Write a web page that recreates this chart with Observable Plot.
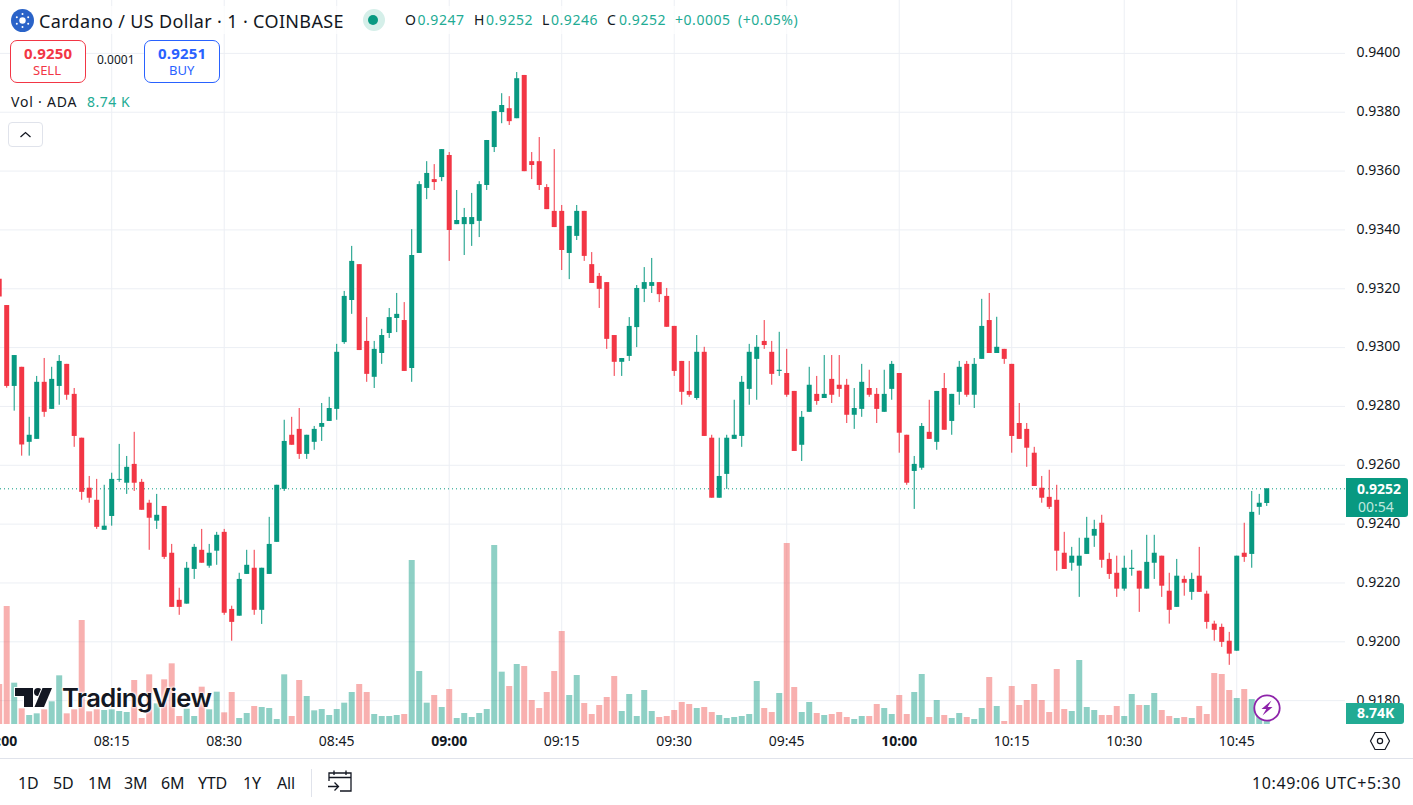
<!DOCTYPE html>
<html><head><meta charset="utf-8">
<script src="https://cdn.jsdelivr.net/npm/d3@7"></script>
<script src="https://cdn.jsdelivr.net/npm/@observablehq/plot@0.6"></script>
<style>
html,body{margin:0;padding:0;background:#fff;overflow:hidden}
#page{position:relative;width:1413px;height:805px;overflow:hidden;font-family:"Noto Sans",sans-serif;color:#131722}
#page svg{display:block}
.layer{position:absolute;left:0;top:0}
.t{position:absolute;white-space:nowrap;line-height:1}
.box{position:absolute;box-sizing:border-box}
</style></head><body><div id="page"></div>
<script>
// prices in ten-thousandths of a dollar, one candle per minute from 08:00
const open=[9323.2,9314.3,9286.8,9293.3,9267.8,9268.8,9288.2,9279,9286.8,9294.3,
9284.1,9269.2,9252.2,9248.1,9237.9,9242.6,9254.9,9253.9,9260.3,9254.2,
9247.1,9241,9246,9230.1,9214.1,9212.8,9224.6,9231.1,9225.7,9230.8,
9237.2,9211,9208.7,9222.9,9225,9210.7,9222.9,9233.8,9251.8,9270.2,
9272.2,9263.7,9267.8,9272.9,9274.9,9279,9301.7,9316,9328.2,9302.1,
9289.9,9298,9304.8,9309.9,9309.2,9292.9,9332,9354.1,9357.1,9357.8,
9365.3,9341.8,9341.8,9341.8,9342.9,9355.1,9368,9379.9,9381.2,9377.8,
9392.5,9363.2,9363.2,9354.4,9346.3,9346.3,9332,9337.8,9346.3,9328.2,
9324.2,9322.1,9304.1,9295,9297,9306.8,9319.8,9320.8,9322.1,9317.4,
9307.2,9295.3,9285.1,9282.7,9298.4,9269.2,9248.8,9256.9,9268.8,9269.8,
9285.8,9296,9302.1,9298.4,9291.9,9291.2,9285.1,9266.8,9278,9284.1,
9282.7,9289.2,9287.2,9287.2,9277,9279,9286.1,9284.1,9278,9285.8,
9291.2,9270.2,9257.9,9259,9271.2,9267.8,9286.1,9274.9,9284.8,9294.3,
9283.8,9296,9309.2,9298,9299.4,9294.3,9274.2,9272.2,9264.1,9252.2,
9249.1,9248.1,9230.1,9226.7,9225.7,9229.7,9235.9,9240.3,9228,9223.3,
9217.9,9224.6,9224,9217.9,9226.7,9229.1,9217.2,9211.7,9221.2,9216.8,
9222.3,9216.2,9206,9204.9,9200.2,9196.8,9230.1,9229.7,9245.7,9247].map(v=>v/1e4);
const close=[9317.2,9286.8,9297.3,9266.9,9270.2,9288.2,9278,9289.2,9295.3,9283.8,
9269.8,9250.8,9248.8,9238.9,9239.3,9255.2,9255.2,9259.3,9253.9,9244.7,
9242,9243,9228.7,9211.7,9211.7,9225,9232.1,9226.7,9230.1,9236.2,
9209.7,9206.6,9221.2,9226,9210.7,9225,9233.1,9253.2,9268.1,9266.8,
9263.7,9270.2,9272.2,9274.2,9279.3,9298.4,9317.4,9329.3,9299,9290.9,
9299.4,9304.1,9310.2,9311.3,9291.9,9331.3,9355.4,9359.2,9356.1,9367.3,
9339.8,9343.2,9344.2,9344.2,9355.4,9370.4,9380.2,9382.3,9376.8,9391.4,
9359.8,9361.9,9355.1,9346.9,9340.8,9333,9341.2,9346.3,9331,9321.8,
9319.8,9302.8,9295,9296.3,9307.2,9320.1,9322.1,9322.1,9318,9306.9,
9291.9,9284.8,9283.8,9298.4,9269.8,9248.8,9256.2,9269.2,9270.2,9288.2,
9298.4,9300.1,9300.7,9290.9,9292.3,9283.8,9264.7,9276.3,9287.2,9281.7,
9284.1,9283.8,9285.8,9277,9279.3,9288.2,9283.8,9279,9284.1,9294.3,
9270.9,9253.9,9260.3,9273.2,9268.8,9285.1,9271.9,9284.1,9293.3,9283.8,
9294.3,9307.2,9298,9300.1,9296,9269.8,9268.8,9265.8,9252.8,9248.8,
9245.7,9230.8,9224.6,9229.1,9229.1,9235.2,9238.2,9227.7,9222.9,9217.9,
9225,9225,9217.9,9227,9230.1,9218.9,9210.7,9222.3,9219.9,9221.2,
9216.8,9206.6,9203.9,9199.8,9195.8,9229.1,9228.7,9244,9247.1,9252].map(v=>v/1e4);
const high=[9323.2,9314.3,9297.3,9293.3,9276.3,9290.2,9296.3,9293.3,9297.3,9294.3,
9286.1,9269.2,9256.2,9255.2,9253.2,9257.3,9267.1,9263,9271.2,9255.2,
9248.1,9250.1,9246,9233.1,9218.2,9227,9233.1,9238.2,9233.1,9237.2,
9238.2,9212.1,9223.3,9231.1,9231.1,9225,9242.3,9253.2,9275.3,9276.3,
9279.3,9270.2,9273.2,9281,9283.1,9301.1,9319.1,9334.4,9328.2,9310.2,
9302.1,9306.2,9313.3,9318.4,9315.3,9340.1,9356.4,9363.2,9362.2,9367.3,
9366.3,9353.4,9347.3,9352.4,9356.4,9370.4,9380.2,9386.3,9385.3,9393.5,
9392.5,9366.3,9371.4,9355.4,9367.3,9348.3,9341.2,9348.3,9346.3,9332.3,
9325.2,9322.1,9304.1,9296.3,9310.2,9321.1,9327.2,9330.3,9322.1,9320.1,
9307.2,9295.3,9295.3,9304.1,9300.1,9270.2,9269.2,9270.2,9282.1,9290.2,
9301.1,9304.1,9309.2,9302.1,9305.2,9299.4,9285.1,9278.3,9293.3,9290.2,
9297.3,9297.3,9297.3,9289.2,9286.1,9294.3,9292.3,9286.1,9292.3,9295.3,
9291.2,9270.2,9263,9274.2,9282.1,9285.1,9291.2,9284.1,9295.3,9295.3,
9296.3,9316.4,9318.4,9310.3,9299.4,9294.3,9281,9274.2,9266.1,9256.2,
9258.3,9253.2,9237.2,9232.1,9235.2,9242.3,9241.3,9243,9230.1,9229.1,
9229.1,9231.1,9224,9236.2,9236.2,9229.1,9223.3,9228,9222.3,9223.3,
9232.1,9217.2,9207,9206,9203.2,9229.1,9240.3,9251.1,9250.1,9252].map(v=>v/1e4);
const low=[9317.2,9286.2,9278.4,9263.1,9263.1,9268.8,9276.3,9279,9280.4,9282.1,
9266.1,9248.1,9247.1,9238.2,9237.9,9239.3,9254.2,9250.1,9251.1,9244.7,
9231.1,9238.2,9228,9211.7,9209,9212.8,9221.2,9226.7,9225,9226,
9209,9200.2,9208.7,9222.9,9209,9205.9,9222.9,9233.8,9251.1,9266.8,
9262,9262,9265.1,9268.1,9274.9,9275.3,9301.1,9311.3,9299,9288.2,
9286.1,9294.3,9303.1,9305.1,9291.9,9288.2,9332,9350.3,9353.4,9356.4,
9329.3,9341.8,9331.3,9334.4,9337.4,9353.4,9366.3,9376.1,9375.5,9377.8,
9359.8,9357.1,9353.4,9346.9,9340.8,9326.2,9323.1,9336.4,9329.3,9321.8,
9313.3,9299.4,9290.2,9290.2,9295.3,9300,9315.3,9318.4,9315.3,9306.9,
9290.2,9280.4,9283.1,9282.1,9269.8,9248.8,9248.8,9251.8,9268.8,9266.1,
9280.4,9282.1,9299.4,9287.2,9290.2,9283.1,9264.7,9261.3,9278,9280.4,
9282.7,9281,9283.1,9274.2,9272.2,9276.3,9283.1,9274.2,9278,9282.1,
9264.1,9253.2,9245,9258.3,9268.8,9265.1,9271.9,9270.2,9280.4,9283.1,
9279.3,9296,9298,9298,9294.3,9264.1,9268.8,9259.3,9252.8,9247.1,
9245,9224,9224.6,9224,9215.1,9229.7,9232.1,9225,9221.2,9215.1,
9217.2,9222.3,9210,9217.9,9221.2,9215.1,9206,9211.7,9215.5,9214.1,
9216.8,9204.3,9200.2,9198.1,9192,9196.8,9227,9225,9243,9246].map(v=>v/1e4);
// volume in thousands of ADA
const volume=[120,354,124,47,27,32,44,68,146,32,
44,312,38,44,42,44,39,36,132,18,
149,62,134,182,24,46,24,112,44,97,
35,96,18,33,54,51,48,15,149,24,
132,84,41,45,27,45,64,96,120,96,
30,24,24,27,30,492,159,64,87,51,
105,18,33,21,33,45,537,157,114,180,
174,72,48,96,159,279,87,147,63,30,
57,81,144,39,90,24,102,39,21,24,
42,66,60,48,51,36,27,18,21,24,
30,129,48,36,93,543,111,36,66,33,
27,30,36,21,15,24,24,60,48,30,
87,30,96,150,21,72,27,18,33,21,
15,48,141,54,9,114,57,72,120,72,
36,165,45,39,192,51,42,27,27,54,
24,90,57,57,93,42,24,18,21,18,
54,30,153,150,102,78,105,75,45,8.74];
const priceTicks=[0.918,0.92,0.922,0.924,0.926,0.928,0.93,0.932,0.934,0.936,0.938,0.94];
const timeLabels=["08:15","08:30","08:45","09:15","09:30","09:45","10:15","10:30","10:45"];
const hourLabels=["08:00","09:00","10:00"];
const lastPrice=0.9252;

const GREEN="#089981",RED="#f23645",TEAL="#22ab94",W=1413,H=758;
const at=(h,m)=>new Date(Date.UTC(2024,0,1,h,m));
const parse=s=>at(+s.slice(0,2),+s.slice(3));
const fmt=d3.utcFormat("%H:%M");
const table=open.map((o,i)=>({t:at(8,i),o,c:close[i],h:high[i],l:low[i],v:volume[i],dir:close[i]>=o?"up":"down"}));
const xDomain=[at(8,0).getTime()+10400,at(8,0).getTime()+179.5*60000].map(d=>new Date(d));
const common={width:W,height:H,marginLeft:0,marginRight:68,marginTop:0,marginBottom:34,style:{background:"transparent",fontFamily:'"Noto Sans",sans-serif'}};

const price=Plot.plot({...common,
  x:{type:"utc",domain:xDomain},
  y:{domain:[0.917189,0.941798]},
  color:{domain:["up","down"],range:[GREEN,RED]},
  marks:[
    Plot.gridY(priceTicks,{stroke:"#eceff4",strokeOpacity:1}),
    Plot.gridX([...timeLabels,...hourLabels].map(parse),{stroke:"#eceff4",strokeOpacity:1}),
    Plot.ruleY([lastPrice],{stroke:GREEN,strokeWidth:1,strokeDasharray:"1 3"}),
    Plot.ruleX(table,{x:"t",y1:"l",y2:"h",stroke:"dir",strokeWidth:1}),
    Plot.ruleX(table,{x:"t",y1:"o",y2:"c",stroke:"dir",strokeWidth:5}),
    Plot.axisY(priceTicks,{anchor:"right",tickSize:0,tickPadding:11,dy:-0.6,tickFormat:d3.format(".4f"),fontSize:14,label:null,fill:"#131722"}),
    Plot.axisX(timeLabels.map(parse),{anchor:"bottom",tickSize:0,tickPadding:12,tickFormat:fmt,fontSize:14,label:null,fill:"#131722"}),
    Plot.axisX(hourLabels.map(parse),{anchor:"bottom",tickSize:0,tickPadding:12,tickFormat:fmt,fontSize:14,fontWeight:700,label:null,fill:"#131722"})
  ]});
const vol=Plot.plot({...common,
  x:{type:"utc",domain:xDomain,axis:null},
  y:{domain:[0,2172],axis:null},
  color:{domain:["up","down"],range:[GREEN,"#ef5350"]},
  marks:[Plot.ruleX(table,{x:"t",y1:0,y2:"v",stroke:"dir",strokeWidth:6,strokeOpacity:0.46})]
});
const page=document.getElementById("page");
price.classList.add("layer");vol.classList.add("layer");
page.append(price,vol);

function T(txt,x,y,size,color,opts={}){const s=document.createElement("span");s.className="t";s.textContent=txt;
  s.style.left=x+"px";s.style.top=(y-size/2)+"px";s.style.fontSize=size+"px";s.style.color=color;
  Object.assign(s.style,opts);page.append(s);return s;}
function B(x,y,w,h,css){const d=document.createElement("div");d.className="box";
  Object.assign(d.style,{left:x+"px",top:y+"px",width:w+"px",height:h+"px"},css);page.append(d);return d;}

// legend, top-left
B(4,6,800,28,{background:"rgba(255,255,255,.7)"});
const logo=B(11,9,23,23,{});
logo.innerHTML='<svg width="23" height="23" viewBox="0 0 23 23"><circle cx="11.5" cy="11.5" r="11.5" fill="#2a63c8"/><g fill="#fff"><circle cx="11.5" cy="11.5" r="3.2"/><circle cx="11.5" cy="5" r="1"/><circle cx="11.5" cy="18" r="1"/><circle cx="5.8" cy="8.2" r="1"/><circle cx="17.2" cy="8.2" r="1"/><circle cx="5.8" cy="14.8" r="1"/><circle cx="17.2" cy="14.8" r="1"/></g></svg>';
T("Cardano / US Dollar · 1 · COINBASE",39,21,18,"#131722",{letterSpacing:".35px"});
B(363,9,22,22,{borderRadius:"50%",background:"#d5efe9"});
B(368,15,10,10,{borderRadius:"50%",background:GREEN});
[["O",405,"#131722"],["0.9247",417.5,TEAL],["H",474,"#131722"],["0.9252",486,TEAL],["L",542,"#131722"],["0.9246",551,TEAL],["C",607,"#131722"],["0.9252",619,TEAL],["+0.0005",675,TEAL],["(+0.05%)",738,TEAL]]
  .forEach(([s,x,c])=>T(s,x,20,14,c,{letterSpacing:".55px"}));
// sell / buy
B(10,40,76,43,{border:"1px solid #f23645",borderRadius:"7px",background:"#fff"});
B(144,40,76,43,{border:"1px solid #2962ff",borderRadius:"7px",background:"#fff"});
T("0.9250",24,53,15,"#f23645",{fontWeight:700,letterSpacing:".2px"});
T("SELL",33,70,13,"#f23645");
T("0.0001",97,60,12,"#131722");
T("0.9251",158,53,15,"#2962ff",{fontWeight:700,letterSpacing:".2px"});
T("BUY",169,70,13,"#2962ff");
T("Vol · ADA",11,102,14,"#131722",{letterSpacing:".8px"});
T("8.74 K",87,102,14,TEAL,{letterSpacing:".5px"});
const chev=B(8,122,35,25,{border:"1px solid #e0e3eb",borderRadius:"4px",background:"#fff"});
chev.innerHTML='<svg width="33" height="23" viewBox="0 0 33 23"><path d="M11.5 14 L16.5 9.5 L21.5 14" fill="none" stroke="#131722" stroke-width="1.3"/></svg>';

// TradingView mark
const tv=B(12,682,42,30,{});
tv.innerHTML='<svg width="42" height="30" viewBox="12 682 42 30"><g fill="#131722" stroke="#fff" stroke-width="2" paint-order="stroke"><path d="M15 688H33V707H24V696H15Z"/><circle cx="38" cy="692" r="4"/><path d="M42.5 688H52L44 707H34.5Z"/></g></svg>';
T("TradingView",62,698,25.6,"#131722",{fontFamily:'"Inter",sans-serif',fontWeight:600,letterSpacing:"-.6px",textShadow:"0 0 3px #fff,0 0 3px #fff,0 0 3px #fff"});
const bolt=B(1253,694,28,28,{});
bolt.innerHTML='<svg width="28" height="28" viewBox="0 0 28 28"><circle cx="14" cy="14" r="12.7" fill="#fff" stroke="#8e24aa" stroke-width="1.8"/><path d="M18.5 6.5 L8.5 15 H13.3 L9.5 21.5 L19.5 13 H14.7Z" fill="#8e24aa"/></svg>';

// price labels
B(1346,478,62,39,{background:GREEN,borderRadius:"0 3px 3px 0"});
T("0.9252",1357,489,14,"#fff",{fontWeight:700});
T("00:54",1358,507,14,"#bfe8de");
B(1346,703,58,21,{background:TEAL,borderRadius:"0 3px 3px 0"});
T("8.74K",1357,713,14,"#fff",{fontWeight:700});
const gear=B(1369,731,22,20,{});
gear.innerHTML='<svg width="22" height="20" viewBox="0 0 22 20"><path d="M6 1.5H16L20.5 10L16 18.5H6L1.5 10Z" fill="none" stroke="#131722" stroke-width="1.2"/><circle cx="11" cy="10" r="2.6" fill="none" stroke="#131722" stroke-width="1.2"/></svg>';

// toolbar
B(0,758,1413,1,{background:"#e0e3eb"});
[["1D",18],["5D",53],["1M",88],["3M",124],["6M",161],["YTD",198],["1Y",243],["All",277]].forEach(([s,x])=>T(s,x,783,16,"#131722",{letterSpacing:"-.2px"}));
B(311,769,1,28,{background:"#e0e3eb"});
const cal=B(327,769,26,25,{});
cal.innerHTML='<svg width="26" height="25" viewBox="0 0 26 25" fill="none" stroke="#131722" stroke-width="1.3"><path d="M2 12V4H24V22H13M2 8.5H24M7 1.5V6M19 1.5V6M1 17.5H11M7.5 13.5L11.5 17.5L7.5 21.5"/></svg>';
T("10:49:06 UTC+5:30",1252,783,16,"#131722",{letterSpacing:".6px"});
</script></body></html>
